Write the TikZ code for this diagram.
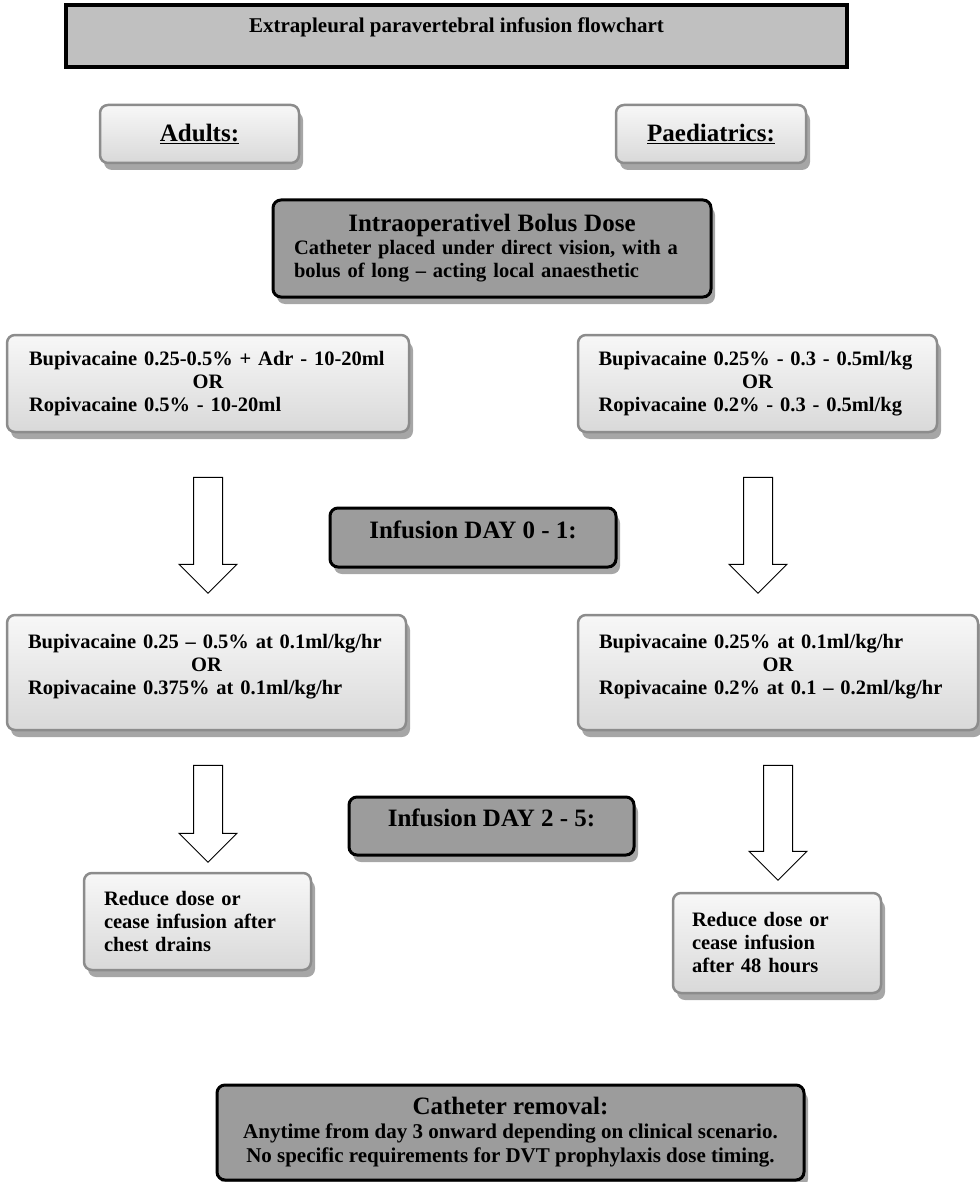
\documentclass[tikz,border=0pt]{standalone}
\usepackage{fontspec}
\setmainfont{Liberation Serif}
\usepackage{tikz}
\usetikzlibrary{shapes.arrows,shadows}

\definecolor{boxgray}{HTML}{9C9C9C}
\definecolor{titlegray}{HTML}{C0C0C0}
\definecolor{edgegray}{HTML}{8C8C8C}

\begin{document}
\begin{tikzpicture}[
      x=1pt, y=-1pt,
      every node/.style={font=\bfseries\fontsize{20.5}{23}\selectfont},
      big/.style={font=\bfseries\fontsize{25}{27}\selectfont},
      shade/.style={drop shadow={shadow xshift=4pt, shadow yshift=-7pt, opacity=.35, fill=black}},
      lightbox/.style={draw=edgegray, line width=2.5pt, rounded corners=8pt, shade,
                       top color=gray!6, bottom color=gray!30, inner sep=0pt},
      darkbox/.style={draw=black, line width=3pt, rounded corners=8pt, shade,
                      fill=boxgray, inner sep=0pt, align=center},
      dose/.style={lightbox, align=left},
      hollow/.style={single arrow, draw=black, line width=1pt, fill=white, rotate=-90,
                     inner xsep=0pt, inner ysep=14pt, minimum width=57pt,
                     single arrow head extend=14.5pt, single arrow tip angle=90}
    ]
    \useasboundingbox (0,0) rectangle (979,1182);
    % header
    \node[draw=black, line width=4pt, fill=titlegray, minimum width=781pt, minimum height=62pt,
          font=\bfseries\fontsize{21}{23}\selectfont, text depth=22pt]
          (title) at (456.5,36) {Extrapleural paravertebral infusion flowchart};
    \node[lightbox, big, minimum width=199pt, minimum height=58pt]
          (adults) at (199.5,134) {\underline{Adults:}};
    \node[lightbox, big, minimum width=190pt, minimum height=58pt]
          (paed) at (711,134) {\underline{Paediatrics:}};
    \node[darkbox, minimum width=438pt, minimum height=97pt, text width=396pt, align=left]
          (bolus) at (492,248.5) {{\centering\fontsize{25}{25}\selectfont Intraoperativel Bolus Dose\par}
          Catheter placed under direct vision, with a\\bolus of long -- acting local anaesthetic};
    % bolus doses
    \node[dose, minimum width=402pt, minimum height=97pt, text width=358pt] (bupiA) at (208,383.5)
          {Bupivacaine 0.25-0.5\% + Adr - 10-20ml\par{\centering OR\par}Ropivacaine 0.5\% - 10-20ml};
    \node[dose, minimum width=359pt, minimum height=97pt, text width=318pt] (bupiP) at (757.5,383.5)
          {Bupivacaine 0.25\% - 0.3 - 0.5ml/kg\par{\centering OR\par}Ropivacaine 0.2\% - 0.3 - 0.5ml/kg};
    % day 0 - 1
    \node[hollow, minimum height=116pt] (arrA1) at (208,528) {};
    \node[hollow, minimum height=116pt] (arrP1) at (758,528) {};
    \node[darkbox, big, minimum width=286pt, minimum height=59pt, text depth=15pt] (day01) at (473,537.5)
          {Infusion DAY 0 - 1:};
    \node[dose, minimum width=399pt, minimum height=115pt, text width=357pt, text depth=63pt]
          (infA) at (206.5,672.5)
          {Bupivacaine 0.25 -- 0.5\% at 0.1ml/kg/hr\par{\centering OR\par}Ropivacaine 0.375\% at 0.1ml/kg/hr};
    \node[dose, minimum width=400pt, minimum height=115pt, text width=358pt, text depth=63pt]
          (infP) at (778,672.5)
          {Bupivacaine 0.25\% at 0.1ml/kg/hr\par{\centering OR\par}Ropivacaine 0.2\% at 0.1 -- 0.2ml/kg/hr};
    % day 2 - 5
    \node[hollow, minimum height=97pt] (arrA2) at (208,806.5) {};
    \node[hollow, minimum height=115pt, minimum width=56pt] (arrP2) at (778,815.5) {};
    \node[darkbox, big, minimum width=285pt, minimum height=58pt, text depth=16pt] (day25) at (491.5,826)
          {Infusion DAY 2 - 5:};
    \node[dose, minimum width=227pt, minimum height=97pt, text width=187pt] (redA) at (197.5,921.5)
          {Reduce dose or\\cease infusion after\\chest drains};
    \node[dose, minimum width=208pt, minimum height=100pt, text width=170pt] (redP) at (777,943)
          {Reduce dose or\\cease infusion\\after 48 hours};
    % removal
    \node[darkbox, minimum width=587pt, minimum height=95pt, font=\bfseries\fontsize{21}{24}\selectfont]
          (removal) at (510.5,1132.5)
          {{\fontsize{25}{25}\selectfont Catheter removal:}\\
           Anytime from day 3 onward depending on clinical scenario.\\
           No specific requirements for DVT prophylaxis dose timing.};
  \end{tikzpicture}
\end{document}
